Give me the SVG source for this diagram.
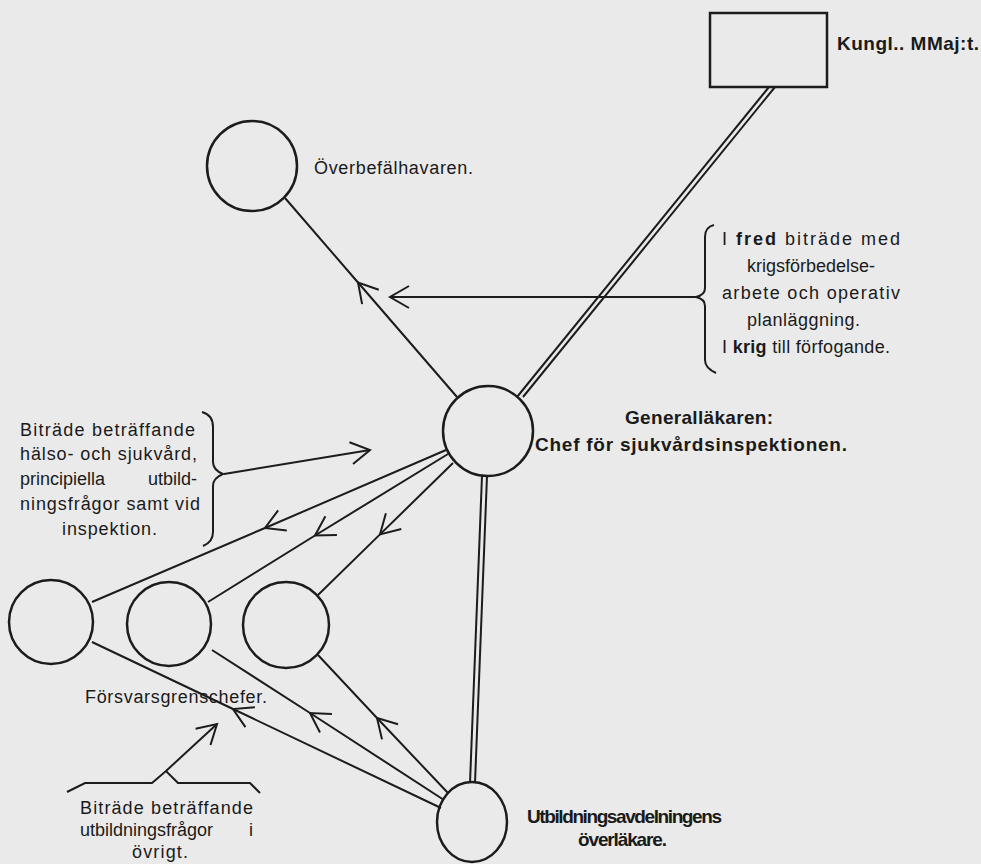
<svg xmlns="http://www.w3.org/2000/svg" width="981" height="864" viewBox="0 0 981 864">
<style>
.bg{fill:#eaeaea}
.node{fill:none;stroke:#1c1c1c;stroke-width:2.5}
.ln{fill:none;stroke:#1c1c1c;stroke-width:2}
.t{font-family:"Liberation Sans",Arial,sans-serif;font-size:18px;fill:#1a1a1a}
.b{font-family:"Liberation Sans",Arial,sans-serif;font-size:19px;font-weight:bold;fill:#1a1a1a}
.bo{font-weight:bold}
</style>
<defs>
<marker id="ah" viewBox="-2 -13 24 26" markerWidth="24" markerHeight="26" refX="19" refY="0" orient="auto" markerUnits="userSpaceOnUse">
<path d="M0,-11 L19,0 L0,11" fill="none" stroke="#1c1c1c" stroke-width="2"/>
</marker>
</defs>
<rect class="bg" x="0" y="0" width="981" height="864"/>

<g id="connectors">
<line class="ln" x1="769" y1="87" x2="517" y2="397"/>
<line class="ln" x1="775" y1="87" x2="523" y2="397"/>
<line class="ln" x1="482" y1="476" x2="470" y2="783"/>
<line class="ln" x1="487" y1="476" x2="475" y2="783"/>
<path class="ln" d="M457,397 L358,282.5 L285,198" marker-mid="url(#ah)"/>
<path class="ln" d="M696,297 L390,297" marker-end="url(#ah)"/>
<path class="ln" d="M224,474 L370,450" marker-end="url(#ah)"/>
<path class="ln" d="M446,450 L265,528 L92,602" marker-mid="url(#ah)"/>
<path class="ln" d="M448,454 L315,535.5 L208,602" marker-mid="url(#ah)"/>
<path class="ln" d="M453,463 L380,534.4 L318,595" marker-mid="url(#ah)"/>
<path class="ln" d="M441,808 L233,709 L92,642" marker-mid="url(#ah)"/>
<path class="ln" d="M444,800 L310,713 L212,650" marker-mid="url(#ah)"/>
<path class="ln" d="M448,793 L377,718 L318,655" marker-mid="url(#ah)"/>
<path class="ln" d="M166,771 L217,724" marker-end="url(#ah)"/>
</g>

<g id="kungl">
<rect class="node" x="710" y="13" width="117" height="74"/>
<text class="b" x="837" y="50" font-size="20" textLength="142">Kungl..  MMaj:t.</text>
</g>

<g id="overbefalhavaren">
<circle class="node" cx="252" cy="166" r="45"/>
<text class="t" x="314" y="174" textLength="159">Överbefälhavaren.</text>
</g>

<g id="fred-note">
<path class="ln" d="M714,225 Q705,227 705,237 L705,288 Q705,295 696,297 Q705,299 705,306 L705,360 Q705,368 716,373"/>
<text class="t" x="722" y="245" textLength="178">I <tspan class="bo">fred</tspan> biträde med</text>
<text class="t" x="811" y="272" text-anchor="middle">krigsförbedelse-</text>
<text class="t" x="722" y="299" textLength="178">arbete och operativ</text>
<text class="t" x="747" y="326" textLength="113">planläggning.</text>
<text class="t" x="722" y="353" textLength="168">I <tspan class="bo">krig</tspan> till förfogande.</text>
</g>

<g id="generallakaren">
<circle class="node" cx="488" cy="431" r="45"/>
<text class="b" x="625" y="424" textLength="148">Generalläkaren:</text>
<text class="b" x="535" y="451" textLength="312">Chef för sjukvårdsinspektionen.</text>
</g>

<g id="halso-note">
<path class="ln" d="M202,412 Q213,415 213,427 L213,462 Q213,470 223,474 Q213,478 213,486 L213,532 Q213,542 203,546"/>
<text class="t" x="20" y="436" textLength="175">Biträde beträffande</text>
<text class="t" x="20" y="460" textLength="177">hälso- och sjukvård,</text>
<text class="t" y="485"><tspan x="20">principiella</tspan><tspan x="197" text-anchor="end">utbild-</tspan></text>
<text class="t" x="20" y="510" textLength="180">ningsfrågor samt vid</text>
<text class="t" x="62" y="535" textLength="95">inspektion.</text>
</g>

<g id="forsvarsgren-1">
<circle class="node" cx="51" cy="622" r="42"/>
</g>
<g id="forsvarsgren-2">
<circle class="node" cx="169" cy="624" r="42"/>
</g>
<g id="forsvarsgren-3">
<circle class="node" cx="286" cy="625" r="43"/>
</g>
<g id="forsvarsgren-label">
<text class="t" x="85" y="703" textLength="182">Försvarsgrenschefer.</text>
</g>

<g id="utbildning-note">
<path class="ln" d="M67,792 L85,783 L152,783 L166,771 L178,783 L250,783 L260,793"/>
<text class="t" x="80" y="814" font-size="17" textLength="173">Biträde beträffande</text>
<text class="t" y="836" font-size="17"><tspan x="80">utbildningsfrågor</tspan><tspan x="253" text-anchor="end">i</tspan></text>
<text class="t" x="132" y="858" font-size="17" textLength="56">övrigt.</text>
</g>

<g id="utbildningsavdelningen">
<ellipse class="node" cx="472" cy="822" rx="35" ry="40"/>
<text class="b" x="527" y="823" font-size="16" textLength="195">Utbildningsavdelningens</text>
<text class="b" x="578" y="846" font-size="16" textLength="89">överläkare.</text>
</g>
</svg>
